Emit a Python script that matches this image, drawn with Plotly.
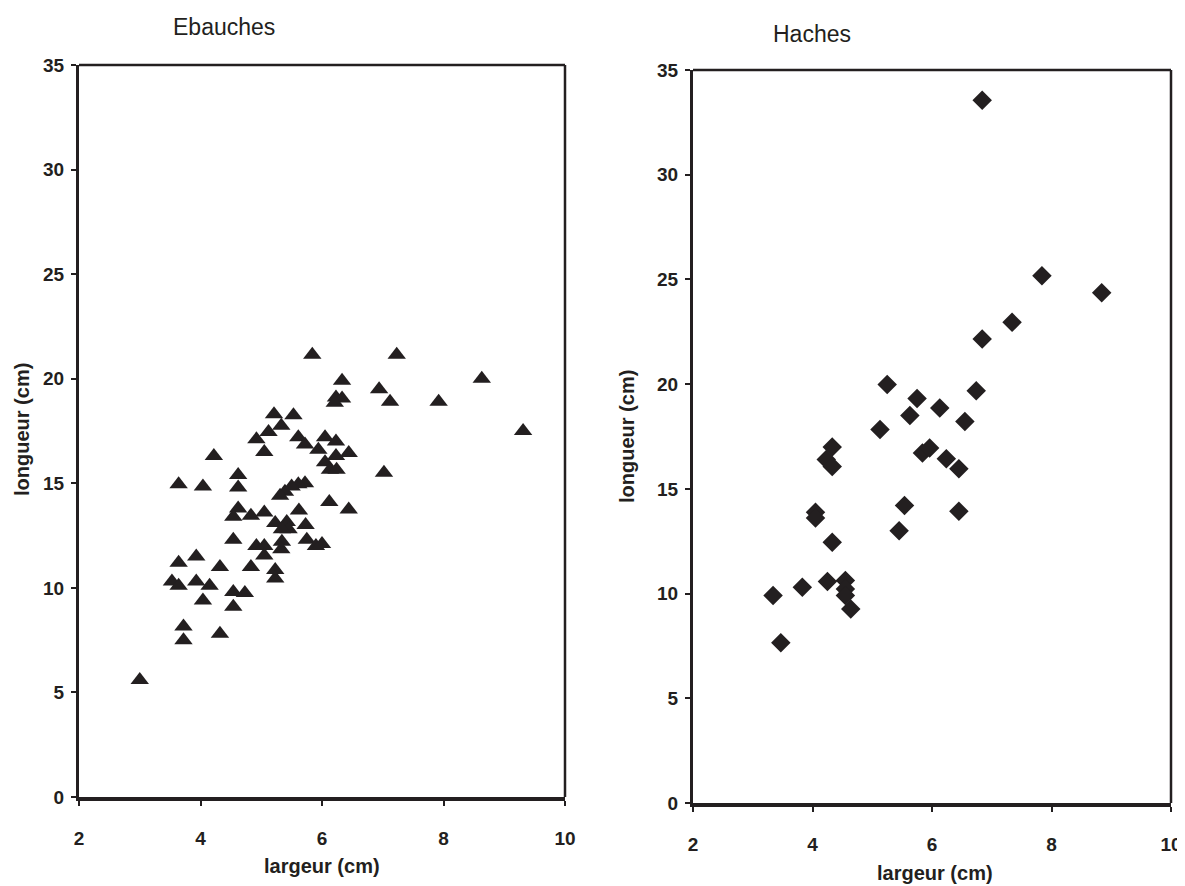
import plotly.graph_objects as go

# Ebauches (left panel)
ebauches_largeur = [
    3.0, 3.72, 3.72, 4.32, 4.54, 4.54, 4.73, 4.04, 3.53, 3.64,
    3.93, 4.15, 3.64, 3.93, 4.32, 4.83, 5.23, 5.23, 4.54, 4.92,
    5.05, 5.05, 5.34, 5.33, 4.62, 4.54, 4.83, 5.05, 5.23, 5.42,
    5.45, 5.34, 5.62, 5.73, 4.62, 4.62, 3.64, 4.04, 4.22, 5.05,
    4.92, 5.12, 5.21, 5.33, 5.53, 5.61, 5.72, 6.05, 6.23, 5.94,
    6.23, 6.44, 6.05, 6.13, 6.24, 7.02, 5.72, 5.61, 5.5, 5.39,
    5.31, 6.12, 6.44, 5.84, 7.23, 6.33, 6.23, 6.33, 6.21, 6.94,
    7.12, 7.92, 8.63, 9.31, 5.75, 5.9, 6.0
]
ebauches_longueur = [
    5.6, 7.5, 8.15, 7.8, 9.1, 9.8, 9.75, 9.4, 10.3, 10.1,
    10.3, 10.1, 11.2, 11.5, 11.0, 11.0, 10.85, 10.45, 12.3, 12.0,
    12.0, 11.55, 12.2, 11.85, 13.8, 13.4, 13.45, 13.6, 13.1, 13.15,
    12.8, 12.8, 13.7, 13.0, 15.4, 14.8, 14.95, 14.85, 16.3, 16.5,
    17.1, 17.45, 18.3, 17.75, 18.25, 17.2, 16.85, 17.2, 17.0, 16.6,
    16.3, 16.45, 16.0, 15.65, 15.65, 15.5, 15.0, 14.95, 14.85, 14.6,
    14.4, 14.1, 13.75, 21.15, 21.15, 19.9, 19.1, 19.05, 18.85, 19.5,
    18.9, 18.9, 20.0, 17.5, 12.3, 12.0, 12.1
]

# Haches (right panel)
haches_largeur = [
    6.84, 7.84, 8.84, 7.34, 6.84, 5.25, 6.74, 5.75, 6.13, 5.63,
    6.55, 5.13, 4.33, 4.23, 4.33, 5.84, 5.96, 6.24, 6.45, 5.54,
    6.45, 5.45, 4.05, 4.05, 4.33, 3.34, 3.83, 4.25, 4.55, 4.55,
    4.55, 4.64, 3.47
]
haches_longueur = [
    33.55, 25.18, 24.36, 22.95, 22.15, 19.98, 19.69, 19.32, 18.86, 18.5,
    18.22, 17.83, 17.0, 16.4, 16.07, 16.71, 16.95, 16.44, 15.96, 14.21,
    13.93, 13.0, 13.88, 13.61, 12.45, 9.91, 10.3, 10.58, 10.63, 10.22,
    9.91, 9.26, 7.65
]

x_ticks = [2, 4, 6, 8, 10]
y_ticks = [0, 5, 10, 15, 20, 25, 30, 35]

INK = "#231f20"
FONT = "Liberation Sans, Arial, sans-serif"

fig = go.Figure()
fig.add_trace(go.Scatter(
    x=ebauches_largeur, y=ebauches_longueur, mode="markers",
    marker=dict(symbol="triangle-up", size=16, color=INK, line=dict(width=0)),
    xaxis="x", yaxis="y", showlegend=False))
fig.add_trace(go.Scatter(
    x=haches_largeur, y=haches_longueur, mode="markers",
    marker=dict(symbol="diamond", size=15, color=INK, line=dict(width=0)),
    xaxis="x2", yaxis="y2", showlegend=False))

tickfont = dict(family=FONT, size=19, color=INK, weight="bold")

def xaxis_cfg(domain, anchor):
    return dict(domain=domain, anchor=anchor, range=[2, 10], tickvals=x_ticks,
                showgrid=False, zeroline=False, showline=True, linewidth=4,
                linecolor=INK, ticks="outside", ticklen=5, tickwidth=1.5,
                tickcolor=INK, tickfont=tickfont, ticklabelstandoff=16,
                automargin=False)

def yaxis_cfg(domain, anchor):
    return dict(domain=domain, anchor=anchor, range=[0, 35], tickvals=y_ticks,
                showgrid=False, zeroline=False, showline=True, linewidth=3,
                linecolor=INK, ticks="outside", ticklen=5, tickwidth=1.5,
                tickcolor=INK, tickfont=tickfont, ticklabelstandoff=3,
                automargin=False)

# page body adds an 8px offset; lay out in page pixels minus that offset
OFF = 8
W, H = 1185, 886

def px(x):
    return (x - OFF) / W

def py(y):
    return 1 - (y - OFF) / H

fig.update_layout(
    width=W, height=H,
    margin=dict(l=0, r=0, t=0, b=0, autoexpand=False),
    paper_bgcolor="white", plot_bgcolor="white",
    xaxis=xaxis_cfg([px(79), px(565)], "y"),
    yaxis=yaxis_cfg([py(797), py(65)], "x"),
    xaxis2=xaxis_cfg([px(693), px(1171)], "y2"),
    yaxis2=yaxis_cfg([py(803), py(70)], "x2"),
)

# top and right frame lines
for xr, yr in [("x", "y"), ("x2", "y2")]:
    fig.add_shape(type="line", xref=f"{xr} domain", yref=f"{yr} domain",
                  x0=0, x1=1, y0=1, y1=1, line=dict(color=INK, width=2.5))
    fig.add_shape(type="line", xref=f"{xr} domain", yref=f"{yr} domain",
                  x0=1, x1=1, y0=0, y1=1, line=dict(color=INK, width=2.5))

def ann(text, x, y, size, bold=False, angle=0):
    fig.add_annotation(text=text, x=px(x), y=py(y), xref="paper", yref="paper",
                       showarrow=False, textangle=angle,
                       font=dict(family=FONT, size=size, color=INK,
                                 weight="bold" if bold else "normal"),
                       xanchor="center", yanchor="middle")

ann("Ebauches", 224, 27, 23)
ann("Haches", 812, 34, 23)
ann("largeur (cm)", 322, 866, 20, bold=True)
ann("largeur (cm)", 935, 873, 20, bold=True)
ann("longueur (cm)", 22, 430, 20, bold=True, angle=-90)
ann("longueur (cm)", 627, 437, 20, bold=True, angle=-90)

fig.write_html("out.html")
